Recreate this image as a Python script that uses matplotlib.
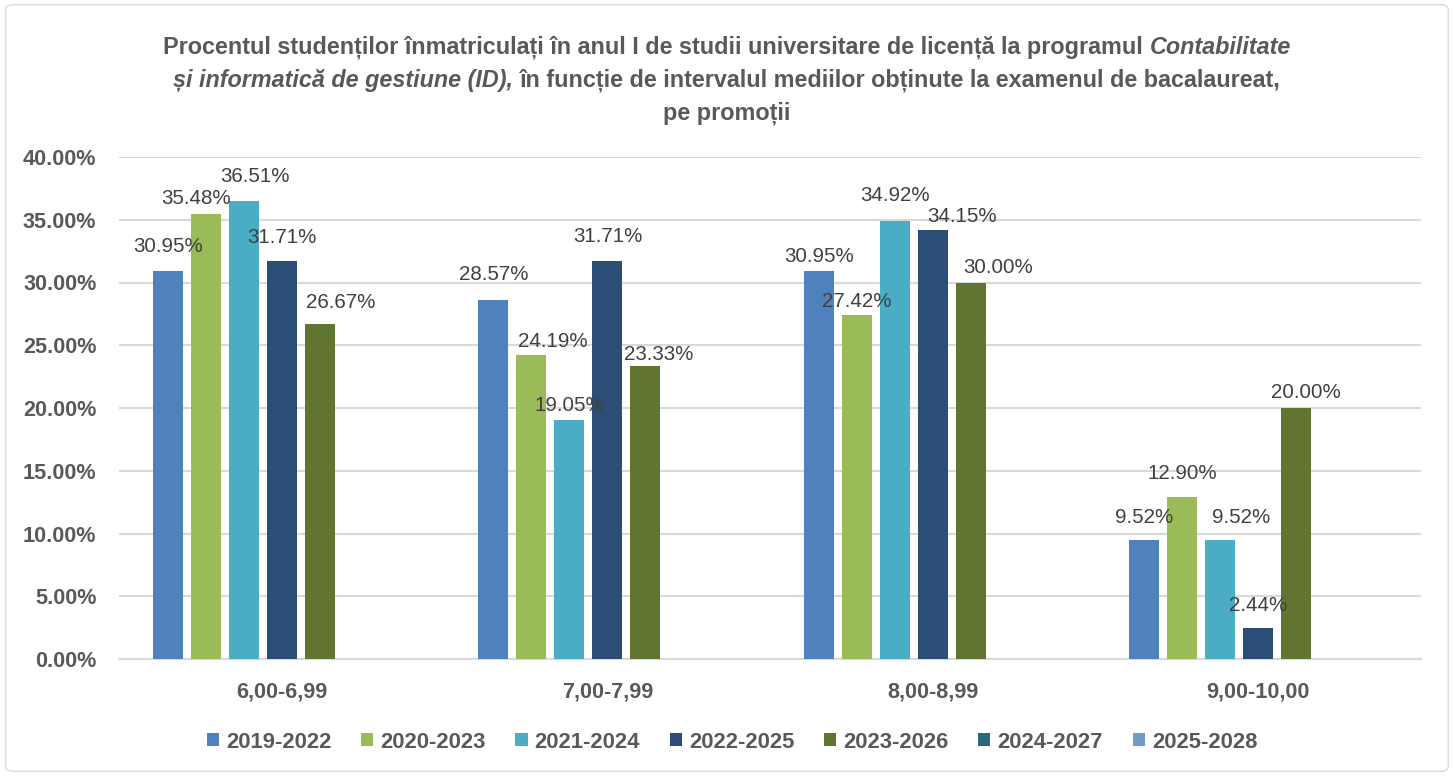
import matplotlib.pyplot as plt
from matplotlib.patches import Patch, FancyBboxPatch
import numpy as np

# date: procent studenti pe intervale de medii, pe promotii
categories = ['6,00-6,99', '7,00-7,99', '8,00-8,99', '9,00-10,00']
promotii = ['2019-2022', '2020-2023', '2021-2024', '2022-2025',
            '2023-2026', '2024-2027', '2025-2028']
p2019 = [30.95, 28.57, 30.95, 9.52]
p2020 = [35.48, 24.19, 27.42, 12.90]
p2021 = [36.51, 19.05, 34.92, 9.52]
p2022 = [31.71, 31.71, 34.15, 2.44]
p2023 = [26.67, 23.33, 30.00, 20.00]
p2024 = []
p2025 = []
yticks = [0, 5, 10, 15, 20, 25, 30, 35, 40]

series = [p2019, p2020, p2021, p2022, p2023, p2024, p2025]
colors = ['#4F81BD', '#9BBB59', '#4BACC6', '#2C4D75', '#5F7530', '#276A7C', '#729ACA']

# labels were moved by hand in the original, nudges in pixels
lab_dx = [[0, 0, 0, 0], [-10, 21, 0, 0], [11, 0, 0, 21], [0, 0, 29, 0], [21, 13, 27, 10]]
lab_dy = [[24, 26, 14, 22], [15, 14, 13, 24], [24, 14, 25, 22], [24, 25, 14, 23], [22, 12, 15, 16]]

grey = '#595959'
px = 0.72  # pixels -> points at dpi 100

fig = plt.figure(figsize=(14.54, 7.76), dpi=100)
ax = fig.add_axes([119.4 / 1454, 1 - 659 / 776, 1301.3 / 1454, 502 / 776])

x = np.arange(len(categories))
pitch = 38 / 325.3
width = 30 / 325.3
for i, vals in enumerate(series):
    if len(vals) == 0:
        continue
    pos = x + (i - 3) * pitch
    bars = ax.bar(pos, vals, width, color=colors[i], zorder=3)
    for j, b in enumerate(bars):
        ax.annotate('%.2f%%' % vals[j], (b.get_x() + b.get_width() / 2, b.get_height()),
                    xytext=(lab_dx[i][j] * px, lab_dy[i][j] * px), textcoords='offset points',
                    ha='center', va='center', fontsize=14.8, color='#404040',
                    family='Liberation Sans', zorder=4)

ax.set_xlim(-0.5, len(categories) - 0.5)
ax.set_ylim(0, 40)
ax.set_yticks(yticks)
ax.set_yticklabels(['%.2f%%' % v for v in yticks])
ax.set_xticks(x)
ax.set_xticklabels(categories)
ax.grid(axis='y', color='#D9D9D9', lw=1.5, zorder=0)
for s in ['top', 'right', 'left']:
    ax.spines[s].set_visible(False)
ax.spines['bottom'].set_color('#D9D9D9')
ax.spines['bottom'].set_linewidth(1.5)
ax.tick_params(axis='y', length=0, pad=16.5, labelsize=15.6, labelcolor=grey)
ax.tick_params(axis='x', length=0, pad=16, labelsize=15.6, labelcolor=grey)
for t in ax.get_xticklabels() + ax.get_yticklabels():
    t.set_fontweight('bold')
    t.set_family('Liberation Sans')

handles = [Patch(facecolor=c) for c in colors]
fig.legend(handles, promotii, loc='center', bbox_to_anchor=(0.5 + 5 / 1454, 1 - 742 / 776), ncol=7,
           frameon=False, handlelength=0.55, handleheight=0.55, handletextpad=0.32,
           columnspacing=1.36, labelcolor=grey,
           prop={'family': 'Liberation Sans', 'weight': 'bold', 'size': 15.8})

# titlu pe trei randuri, cu parti in italic
title_lines = [
    [('Procentul studenților înmatriculați în anul I de studii universitare de licență la programul', 'normal'),
     ('Contabilitate', 'italic')],
    [('și informatică de gestiune (ID),', 'italic'),
     ('în funcție de intervalul mediilor obținute la examenul de bacalaureat,', 'normal')],
    [('pe promoții', 'normal')],
]
title_y = [47, 80, 113]

fig.canvas.draw()
r = fig.canvas.get_renderer()


def draw_title(fs):
    made = []
    widths = []
    for line, yy in zip(title_lines, title_y):
        pieces = [fig.text(0, 1 - yy / 776, s, ha='left', va='center', fontsize=fs,
                           fontweight='bold', fontstyle=st, color=grey, family='Liberation Sans')
                  for s, st in line]
        # place pieces side by side, centred
        ws = [t.get_window_extent(r).width for t in pieces]
        gap = fs * 0.278 / px
        widths.append(sum(ws) + gap * (len(ws) - 1))
        xx = (1454 - widths[-1]) / 2
        for t, w in zip(pieces, ws):
            t.set_x(xx / 1454)
            xx += w + gap
        made.append(pieces)
    return made, widths


made, widths = draw_title(14)
fs = 14 * 1130 / widths[0]
for pieces in made:
    for t in pieces:
        t.remove()
draw_title(fs)

fig.add_artist(FancyBboxPatch((0.004, 0.006), 0.992, 0.988,
                              boxstyle='round,pad=0,rounding_size=0.006',
                              transform=fig.transFigure, fill=False,
                              edgecolor='#D9D9D9', lw=1))

fig.savefig('out.png', dpi=100)
